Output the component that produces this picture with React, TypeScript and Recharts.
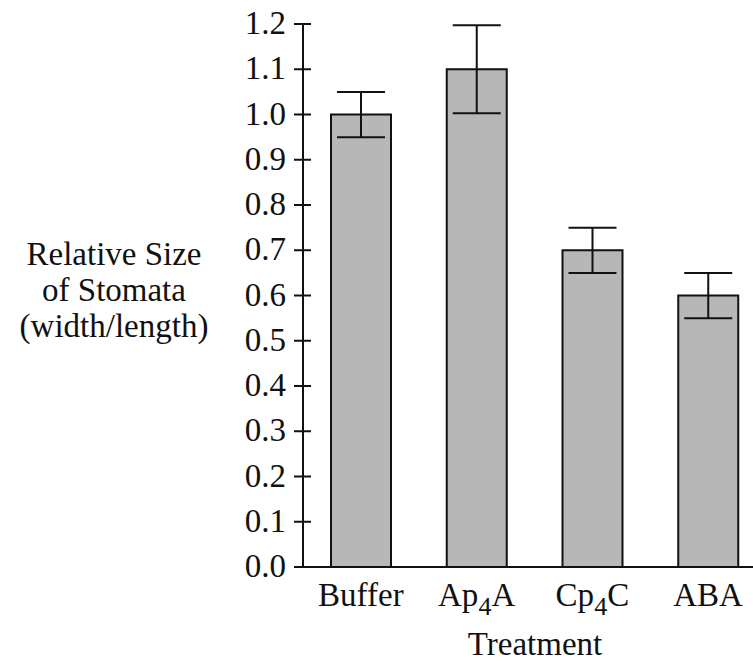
import React from 'react';
import { BarChart, Bar, XAxis, YAxis, ErrorBar } from 'recharts';

const treatments = ['Buffer', 'Ap4A', 'Cp4C', 'ABA'];
const relativeSize = [1.0, 1.1, 0.7, 0.6];
const sizeError = [0.05, 0.097, 0.05, 0.05];
const yTicks = [0, 0.1, 0.2, 0.3, 0.4, 0.5, 0.6, 0.7, 0.8, 0.9, 1.0, 1.1, 1.2];
const yLabelLines = ['Relative Size', 'of Stomata', '(width/length)'];
const xLabel = 'Treatment';

const data = treatments.map((t, i) => ({
  treatment: t,
  size: relativeSize[i],
  err: sizeError[i],
}));

const FONT = '"Liberation Serif", "DejaVu Serif", serif';
const INK = '#111';

// tick label with digits as subscripts (Ap4A -> Ap₄A)
const XTick = (props: any) => {
  const { x, y, payload } = props;
  const parts: string[] = String(payload.value).split(/(\d)/).filter(Boolean);
  let lowered = false;
  return (
    <text x={x} y={y + 39} textAnchor="middle" fontFamily={FONT} fontSize={33} fill={INK}>
      {parts.map((p, i) => {
        const isSub = /\d/.test(p);
        const dy = isSub ? 9 : lowered ? -9 : 0;
        lowered = isSub;
        return (
          <tspan key={i} dy={dy} fontSize={isSub ? 26 : 33}>
            {p}
          </tspan>
        );
      })}
    </text>
  );
};

// ticks cross the axis line, so draw them ourselves
const YTick = (props: any) => {
  const { x, y, payload } = props;
  const axisX = x + 17;
  return (
    <g>
      <line x1={axisX - 9} x2={axisX + 8} y1={y} y2={y} stroke={INK} strokeWidth={2} />
      <text x={x} y={y + 10} textAnchor="end" fontFamily={FONT} fontSize={33} fill={INK}>
        {Number(payload.value).toFixed(1)}
      </text>
    </g>
  );
};

const YLabel = () => (
  <text textAnchor="middle" fontFamily={FONT} fontSize={33} fill={INK}>
    {yLabelLines.map((line, i) => (
      <tspan key={i} x={114} y={265 + i * 36}>
        {line}
      </tspan>
    ))}
  </text>
);

const XLabel = () => (
  <text x={535} y={655} textAnchor="middle" fontFamily={FONT} fontSize={33} fill={INK}>
    {xLabel}
  </text>
);

export default function App() {
  return (
    <div
      style={{
        position: 'absolute',
        left: 0,
        top: 0,
        width: 753,
        height: 661,
        overflow: 'hidden',
        background: '#fff',
      }}
    >
      <BarChart
        width={770}
        height={661}
        data={data}
        margin={{ top: 24, right: 4, left: 0, bottom: 0 }}
      >
        <XAxis
          dataKey="treatment"
          height={94}
          tick={<XTick />}
          tickLine={false}
          tickSize={0}
          tickMargin={0}
          interval={0}
          axisLine={{ stroke: INK, strokeWidth: 2 }}
          label={{ content: <XLabel /> }}
        />
        <YAxis
          width={303}
          domain={[0, 1.2]}
          ticks={yTicks}
          interval={0}
          tick={<YTick />}
          tickLine={false}
          tickSize={9}
          tickMargin={8}
          axisLine={{ stroke: INK, strokeWidth: 2 }}
          label={{ content: <YLabel /> }}
        />
        <Bar
          dataKey="size"
          barSize={60}
          fill="#b7b7b7"
          stroke={INK}
          strokeWidth={2}
          isAnimationActive={false}
        >
          <ErrorBar
            dataKey="err"
            direction="y"
            width={24}
            stroke={INK}
            strokeWidth={2}
            isAnimationActive={false}
          />
        </Bar>
      </BarChart>
    </div>
  );
}
